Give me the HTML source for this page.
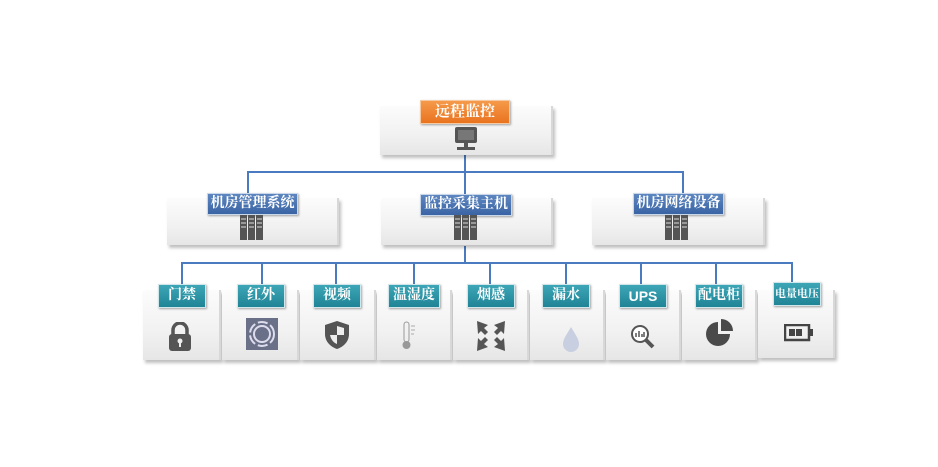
<!DOCTYPE html>
<html><head><meta charset="utf-8"><style>
body{margin:0;width:938px;height:467px;background:#fff;position:relative;overflow:hidden;font-family:"Liberation Serif","Noto Serif CJK SC","Noto Sans CJK SC",serif;}
.box{position:absolute;background:linear-gradient(180deg,#fcfcfc 0%,#f1f1f1 60%,#e6e6e6 100%);box-shadow:2px 3px 3px rgba(0,0,0,0.25);border-right:2px solid #d8d8d8;}
.lbl{position:absolute;color:#fff;font-weight:bold;text-align:center;box-shadow:1px 1px 2px rgba(0,0,0,0.35);white-space:nowrap;overflow:hidden;}
.blue{background:linear-gradient(180deg,#5d86c0,#3a64a4);border:1px solid #c9d7ea;font-size:14px;line-height:20px;height:20px;}
.teal{background:linear-gradient(180deg,#3da6b6,#1f8496);border:1px solid #d0e6ea;font-size:14px;line-height:22px;height:22px;}
.ln{position:absolute;background:#4a7bc0;}
</style></head><body>
<div class="ln" style="left:464px;top:155px;width:2px;height:17px"></div>
<div class="ln" style="left:247px;top:171px;width:437px;height:2px"></div>
<div class="ln" style="left:247px;top:171px;width:2px;height:24px"></div>
<div class="ln" style="left:464px;top:171px;width:2px;height:25px"></div>
<div class="ln" style="left:682px;top:171px;width:2px;height:24px"></div>
<div class="ln" style="left:464px;top:246px;width:2px;height:17px"></div>
<div class="ln" style="left:181px;top:262px;width:612px;height:2px"></div>
<div class="ln" style="left:181px;top:262px;width:2px;height:22px"></div>
<div class="ln" style="left:261px;top:262px;width:2px;height:22px"></div>
<div class="ln" style="left:335px;top:262px;width:2px;height:22px"></div>
<div class="ln" style="left:413px;top:262px;width:2px;height:22px"></div>
<div class="ln" style="left:489px;top:262px;width:2px;height:22px"></div>
<div class="ln" style="left:565px;top:262px;width:2px;height:22px"></div>
<div class="ln" style="left:640px;top:262px;width:2px;height:22px"></div>
<div class="ln" style="left:715px;top:262px;width:2px;height:22px"></div>
<div class="ln" style="left:791px;top:262px;width:2px;height:20px"></div>

<div class="box" style="left:380px;top:106px;width:171px;height:49px"></div>
<div class="lbl" style="left:420px;top:100px;width:88px;height:22px;line-height:22px;font-size:15px;background:linear-gradient(180deg,#f59a4a,#e9731f);border:1px solid #f6c9a0">远程监控</div>
<svg style="position:absolute;left:453px;top:126px" width="26" height="26" viewBox="0 0 26 26"><rect x="2" y="1" width="22" height="16" rx="2" fill="#555"/><rect x="5" y="4" width="16" height="10" fill="#777"/><rect x="11" y="17" width="4" height="4" fill="#555"/><rect x="4" y="21" width="18" height="3" fill="#555"/></svg>

<div class="box" style="left:167px;top:198px;width:170px;height:47px"></div>
<div class="box" style="left:381px;top:198px;width:170px;height:47px"></div>
<div class="box" style="left:592px;top:198px;width:171px;height:47px"></div>
<div class="lbl blue" style="left:207px;top:193px;width:89px">机房管理系统</div>
<div class="lbl blue" style="left:420px;top:194px;width:90px">监控采集主机</div>
<div class="lbl blue" style="left:633px;top:193px;width:89px">机房网络设备</div>
<svg style="position:absolute;left:240px;top:215px" width="24" height="25"><g fill="#555"><rect x="0" y="0" width="7" height="25"/><rect x="8" y="0" width="7" height="25"/><rect x="16" y="0" width="7" height="25"/></g><g stroke="#ddd" stroke-width="1"><path d="M1 4h5M1 8h5M1 12h5M9 4h5M9 8h5M9 12h5M17 4h5M17 8h5M17 12h5"/></g></svg>
<svg style="position:absolute;left:454px;top:215px" width="24" height="25"><g fill="#555"><rect x="0" y="0" width="7" height="25"/><rect x="8" y="0" width="7" height="25"/><rect x="16" y="0" width="7" height="25"/></g><g stroke="#ddd" stroke-width="1"><path d="M1 4h5M1 8h5M1 12h5M9 4h5M9 8h5M9 12h5M17 4h5M17 8h5M17 12h5"/></g></svg>
<svg style="position:absolute;left:665px;top:215px" width="24" height="25"><g fill="#555"><rect x="0" y="0" width="7" height="25"/><rect x="8" y="0" width="7" height="25"/><rect x="16" y="0" width="7" height="25"/></g><g stroke="#ddd" stroke-width="1"><path d="M1 4h5M1 8h5M1 12h5M9 4h5M9 8h5M9 12h5M17 4h5M17 8h5M17 12h5"/></g></svg>

<div class="box" style="left:143px;top:290px;width:76px;height:70px"></div>
<div class="box" style="left:222px;top:290px;width:75px;height:70px"></div>
<div class="box" style="left:300px;top:290px;width:74px;height:70px"></div>
<div class="box" style="left:377px;top:290px;width:73px;height:70px"></div>
<div class="box" style="left:453px;top:290px;width:74px;height:70px"></div>
<div class="box" style="left:530px;top:290px;width:73px;height:70px"></div>
<div class="box" style="left:606px;top:290px;width:73px;height:70px"></div>
<div class="box" style="left:682px;top:290px;width:73px;height:70px"></div>
<div class="box" style="left:758px;top:290px;width:75px;height:68px"></div>

<div class="lbl teal" style="left:158px;top:284px;width:46px">门禁</div>
<div class="lbl teal" style="left:237px;top:284px;width:46px">红外</div>
<div class="lbl teal" style="left:313px;top:284px;width:46px">视频</div>
<div class="lbl teal" style="left:388px;top:284px;width:50px">温湿度</div>
<div class="lbl teal" style="left:467px;top:284px;width:46px">烟感</div>
<div class="lbl teal" style="left:542px;top:284px;width:46px">漏水</div>
<div class="lbl teal" style="left:619px;top:284px;width:46px;font-family:'Liberation Sans',sans-serif">UPS</div>
<div class="lbl teal" style="left:695px;top:284px;width:46px">配电柜</div>
<div class="lbl teal" style="left:773px;top:282px;width:46px;font-size:11px">电量电压</div>

<svg style="position:absolute;left:168px;top:322px" width="24" height="29"><path d="M5 13V8a7 7 0 0 1 14 0v5" fill="none" stroke="#555" stroke-width="3.5"/><rect x="1" y="12" width="22" height="17" rx="3" fill="#555"/><circle cx="12" cy="19" r="2.5" fill="#eee"/><rect x="11" y="20" width="2" height="5" fill="#eee"/></svg>
<svg style="position:absolute;left:246px;top:318px" width="32" height="32"><rect width="32" height="32" fill="#6a7088"/><circle cx="16" cy="16" r="8" fill="none" stroke="#dde" stroke-width="2"/><circle cx="16" cy="16" r="12" fill="none" stroke="#dde" stroke-width="2" stroke-dasharray="10 3"/></svg>
<svg style="position:absolute;left:324px;top:320px" width="26" height="30"><path d="M13 1L25 5V14C25 22 19 27 13 29C7 27 1 22 1 14V5Z" fill="#555"/><path d="M13 6L20 8V15H13Z" fill="#eee"/><path d="M13 15H6C7 20 10 23 13 24Z" fill="#eee"/></svg>
<svg style="position:absolute;left:398px;top:320px" width="20" height="32"><rect x="6" y="2" width="5" height="20" rx="2.5" fill="none" stroke="#999"/><circle cx="8.5" cy="25" r="4" fill="#999"/><path d="M13 6h4M13 10h4M13 14h3" stroke="#aaa"/></svg>
<svg style="position:absolute;left:477px;top:321px" width="28" height="30"><g fill="#555"><path d="M0 0L11 4 7 7 11 11 8 14 4 10 1 13Z"/><path d="M28 0L17 4 21 7 17 11 20 14 24 10 27 13Z"/><path d="M0 30L11 26 7 23 11 19 8 16 4 20 1 17Z"/><path d="M28 30L17 26 21 23 17 19 20 16 24 20 27 17Z"/></g></svg>
<svg style="position:absolute;left:561px;top:326px" width="20" height="27"><path d="M10 1C14 8 18 13 18 18A8 8 0 0 1 2 18C2 13 6 8 10 1Z" fill="#c8cfe0"/></svg>
<svg style="position:absolute;left:630px;top:324px" width="26" height="26"><circle cx="10" cy="10" r="8" fill="#fff" stroke="#555" stroke-width="2"/><path d="M16 16L23 23" stroke="#555" stroke-width="4"/><path d="M6 13V9M9 13V7M12 13V10M14 13V8" stroke="#555" stroke-width="1.5"/></svg>
<svg style="position:absolute;left:705px;top:318px" width="32" height="30"><path d="M13 4A12 12 0 1 0 25 16H13Z" fill="#4a4a4a"/><path d="M16 1V13H28A12 12 0 0 0 16 1Z" fill="#4a4a4a"/></svg>
<svg style="position:absolute;left:784px;top:324px" width="30" height="18"><rect x="1" y="1" width="24" height="15" fill="none" stroke="#444" stroke-width="2.5"/><rect x="26" y="5" width="3" height="7" fill="#444"/><rect x="5" y="5" width="6" height="7" fill="#444"/><rect x="12" y="5" width="6" height="7" fill="#444"/></svg>
</body></html>
